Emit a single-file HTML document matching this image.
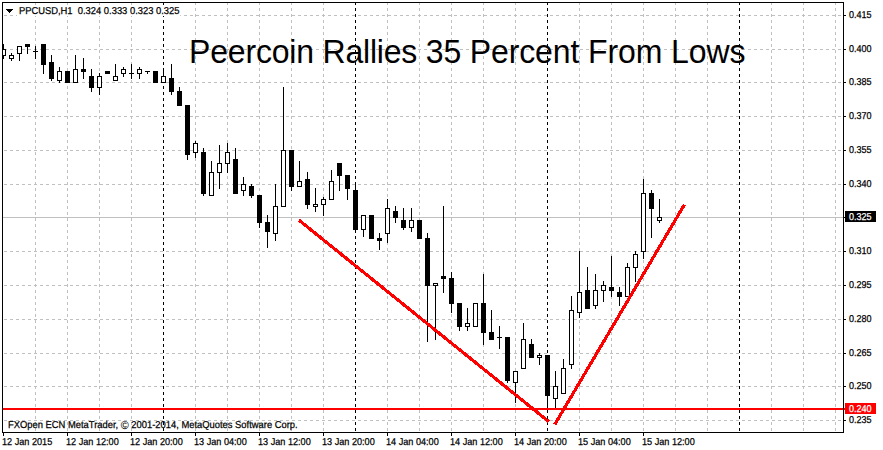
<!DOCTYPE html>
<html><head><meta charset="utf-8"><title>PPCUSD H1</title>
<style>
html,body{margin:0;padding:0;background:#fff;}
body{width:883px;height:450px;position:relative;overflow:hidden;font-family:"Liberation Sans",sans-serif;color:#000;}
svg{position:absolute;left:0;top:0;}
.t{position:absolute;white-space:nowrap;}
.ax{font-size:10px;line-height:12px;text-rendering:geometricPrecision;-webkit-text-stroke:0.25px;transform:scaleX(0.9);transform-origin:0 0;}
</style></head><body>
<svg width="883" height="450" viewBox="0 0 883 450" shape-rendering="crispEdges">
<line x1="35.5" y1="2" x2="35.5" y2="432" stroke="#c0c0c0" stroke-dasharray="3 3"/>
<line x1="67.5" y1="2" x2="67.5" y2="432" stroke="#c0c0c0" stroke-dasharray="3 3"/>
<line x1="99.5" y1="2" x2="99.5" y2="432" stroke="#c0c0c0" stroke-dasharray="3 3"/>
<line x1="131.5" y1="2" x2="131.5" y2="432" stroke="#c0c0c0" stroke-dasharray="3 3"/>
<line x1="195.5" y1="2" x2="195.5" y2="432" stroke="#c0c0c0" stroke-dasharray="3 3"/>
<line x1="227.5" y1="2" x2="227.5" y2="432" stroke="#c0c0c0" stroke-dasharray="3 3"/>
<line x1="259.5" y1="2" x2="259.5" y2="432" stroke="#c0c0c0" stroke-dasharray="3 3"/>
<line x1="291.5" y1="2" x2="291.5" y2="432" stroke="#c0c0c0" stroke-dasharray="3 3"/>
<line x1="323.5" y1="2" x2="323.5" y2="432" stroke="#c0c0c0" stroke-dasharray="3 3"/>
<line x1="387.5" y1="2" x2="387.5" y2="432" stroke="#c0c0c0" stroke-dasharray="3 3"/>
<line x1="419.5" y1="2" x2="419.5" y2="432" stroke="#c0c0c0" stroke-dasharray="3 3"/>
<line x1="451.5" y1="2" x2="451.5" y2="432" stroke="#c0c0c0" stroke-dasharray="3 3"/>
<line x1="483.5" y1="2" x2="483.5" y2="432" stroke="#c0c0c0" stroke-dasharray="3 3"/>
<line x1="515.5" y1="2" x2="515.5" y2="432" stroke="#c0c0c0" stroke-dasharray="3 3"/>
<line x1="579.5" y1="2" x2="579.5" y2="432" stroke="#c0c0c0" stroke-dasharray="3 3"/>
<line x1="611.5" y1="2" x2="611.5" y2="432" stroke="#c0c0c0" stroke-dasharray="3 3"/>
<line x1="643.5" y1="2" x2="643.5" y2="432" stroke="#c0c0c0" stroke-dasharray="3 3"/>
<line x1="675.5" y1="2" x2="675.5" y2="432" stroke="#c0c0c0" stroke-dasharray="3 3"/>
<line x1="707.5" y1="2" x2="707.5" y2="432" stroke="#c0c0c0" stroke-dasharray="3 3"/>
<line x1="771.5" y1="2" x2="771.5" y2="432" stroke="#c0c0c0" stroke-dasharray="3 3"/>
<line x1="803.5" y1="2" x2="803.5" y2="432" stroke="#c0c0c0" stroke-dasharray="3 3"/>
<line x1="835.5" y1="2" x2="835.5" y2="432" stroke="#c0c0c0" stroke-dasharray="3 3"/>
<line x1="4" y1="15.5" x2="843" y2="15.5" stroke="#c0c0c0" stroke-dasharray="3 3"/>
<line x1="4" y1="49.5" x2="843" y2="49.5" stroke="#c0c0c0" stroke-dasharray="3 3"/>
<line x1="4" y1="82.5" x2="843" y2="82.5" stroke="#c0c0c0" stroke-dasharray="3 3"/>
<line x1="4" y1="116.5" x2="843" y2="116.5" stroke="#c0c0c0" stroke-dasharray="3 3"/>
<line x1="4" y1="150.5" x2="843" y2="150.5" stroke="#c0c0c0" stroke-dasharray="3 3"/>
<line x1="4" y1="184.5" x2="843" y2="184.5" stroke="#c0c0c0" stroke-dasharray="3 3"/>
<line x1="4" y1="251.5" x2="843" y2="251.5" stroke="#c0c0c0" stroke-dasharray="3 3"/>
<line x1="4" y1="285.5" x2="843" y2="285.5" stroke="#c0c0c0" stroke-dasharray="3 3"/>
<line x1="4" y1="319.5" x2="843" y2="319.5" stroke="#c0c0c0" stroke-dasharray="3 3"/>
<line x1="4" y1="353.5" x2="843" y2="353.5" stroke="#c0c0c0" stroke-dasharray="3 3"/>
<line x1="4" y1="386.5" x2="843" y2="386.5" stroke="#c0c0c0" stroke-dasharray="3 3"/>
<line x1="4" y1="420.5" x2="843" y2="420.5" stroke="#c0c0c0" stroke-dasharray="3 3"/>
<rect x="3" y="217" width="841" height="1" fill="#c0c0c0"/>
<line x1="163.5" y1="2" x2="163.5" y2="432" stroke="#000" stroke-dasharray="3 3"/>
<line x1="355.5" y1="2" x2="355.5" y2="432" stroke="#000" stroke-dasharray="3 3"/>
<line x1="547.5" y1="2" x2="547.5" y2="432" stroke="#000" stroke-dasharray="3 3"/>
<line x1="739.5" y1="2" x2="739.5" y2="432" stroke="#000" stroke-dasharray="3 3"/>
<rect x="3" y="44" width="1" height="15" fill="#000"/>
<rect x="1" y="49" width="5" height="7" fill="#000"/>
<rect x="2" y="50" width="3" height="5" fill="#fff"/>
<rect x="11" y="53" width="1" height="8" fill="#000"/>
<rect x="9" y="55" width="5" height="4" fill="#000"/>
<rect x="10" y="56" width="3" height="2" fill="#fff"/>
<rect x="19" y="46" width="1" height="15" fill="#000"/>
<rect x="17" y="46" width="5" height="8" fill="#000"/>
<rect x="18" y="47" width="3" height="6" fill="#fff"/>
<rect x="27" y="44" width="1" height="10" fill="#000"/>
<rect x="25" y="44" width="5" height="3" fill="#000"/>
<rect x="35" y="46" width="1" height="13" fill="#000"/>
<rect x="33" y="51" width="5" height="1" fill="#000"/>
<rect x="43" y="44" width="1" height="30" fill="#000"/>
<rect x="41" y="44" width="5" height="21" fill="#000"/>
<rect x="51" y="55" width="1" height="26" fill="#000"/>
<rect x="49" y="62" width="5" height="17" fill="#000"/>
<rect x="59" y="67" width="1" height="16" fill="#000"/>
<rect x="57" y="71" width="5" height="10" fill="#000"/>
<rect x="58" y="72" width="3" height="8" fill="#fff"/>
<rect x="67" y="71" width="1" height="12" fill="#000"/>
<rect x="65" y="71" width="5" height="12" fill="#000"/>
<rect x="75" y="55" width="1" height="28" fill="#000"/>
<rect x="73" y="69" width="5" height="14" fill="#000"/>
<rect x="74" y="70" width="3" height="12" fill="#fff"/>
<rect x="83" y="58" width="1" height="21" fill="#000"/>
<rect x="81" y="69" width="5" height="3" fill="#000"/>
<rect x="91" y="69" width="1" height="23" fill="#000"/>
<rect x="89" y="76" width="5" height="12" fill="#000"/>
<rect x="99" y="73" width="1" height="22" fill="#000"/>
<rect x="97" y="76" width="5" height="12" fill="#000"/>
<rect x="98" y="77" width="3" height="10" fill="#fff"/>
<rect x="107" y="71" width="1" height="3" fill="#000"/>
<rect x="105" y="71" width="5" height="3" fill="#000"/>
<rect x="115" y="64" width="1" height="17" fill="#000"/>
<rect x="113" y="76" width="5" height="5" fill="#000"/>
<rect x="114" y="77" width="3" height="3" fill="#fff"/>
<rect x="123" y="67" width="1" height="10" fill="#000"/>
<rect x="121" y="69" width="5" height="5" fill="#000"/>
<rect x="122" y="70" width="3" height="3" fill="#fff"/>
<rect x="131" y="64" width="1" height="15" fill="#000"/>
<rect x="129" y="73" width="5" height="1" fill="#000"/>
<rect x="139" y="67" width="1" height="12" fill="#000"/>
<rect x="137" y="69" width="5" height="5" fill="#000"/>
<rect x="138" y="70" width="3" height="3" fill="#fff"/>
<rect x="147" y="71" width="1" height="3" fill="#000"/>
<rect x="145" y="71" width="5" height="1" fill="#000"/>
<rect x="155" y="71" width="1" height="12" fill="#000"/>
<rect x="153" y="71" width="5" height="12" fill="#000"/>
<rect x="163" y="68" width="1" height="15" fill="#000"/>
<rect x="161" y="76" width="5" height="7" fill="#000"/>
<rect x="162" y="77" width="3" height="5" fill="#fff"/>
<rect x="171" y="64" width="1" height="31" fill="#000"/>
<rect x="169" y="78" width="5" height="14" fill="#000"/>
<rect x="179" y="87" width="1" height="19" fill="#000"/>
<rect x="177" y="91" width="5" height="15" fill="#000"/>
<rect x="187" y="105" width="1" height="55" fill="#000"/>
<rect x="185" y="105" width="5" height="50" fill="#000"/>
<rect x="195" y="141" width="1" height="17" fill="#000"/>
<rect x="193" y="143" width="5" height="10" fill="#000"/>
<rect x="194" y="144" width="3" height="8" fill="#fff"/>
<rect x="203" y="148" width="1" height="48" fill="#000"/>
<rect x="201" y="152" width="5" height="42" fill="#000"/>
<rect x="211" y="161" width="1" height="35" fill="#000"/>
<rect x="209" y="172" width="5" height="24" fill="#000"/>
<rect x="210" y="173" width="3" height="22" fill="#fff"/>
<rect x="219" y="145" width="1" height="44" fill="#000"/>
<rect x="217" y="163" width="5" height="10" fill="#000"/>
<rect x="218" y="164" width="3" height="8" fill="#fff"/>
<rect x="227" y="143" width="1" height="30" fill="#000"/>
<rect x="225" y="152" width="5" height="12" fill="#000"/>
<rect x="226" y="153" width="3" height="10" fill="#fff"/>
<rect x="235" y="148" width="1" height="46" fill="#000"/>
<rect x="233" y="159" width="5" height="35" fill="#000"/>
<rect x="243" y="177" width="1" height="19" fill="#000"/>
<rect x="241" y="184" width="5" height="7" fill="#000"/>
<rect x="242" y="185" width="3" height="5" fill="#fff"/>
<rect x="251" y="184" width="1" height="14" fill="#000"/>
<rect x="249" y="186" width="5" height="10" fill="#000"/>
<rect x="259" y="195" width="1" height="33" fill="#000"/>
<rect x="257" y="195" width="5" height="28" fill="#000"/>
<rect x="267" y="215" width="1" height="33" fill="#000"/>
<rect x="265" y="222" width="5" height="10" fill="#000"/>
<rect x="275" y="184" width="1" height="57" fill="#000"/>
<rect x="273" y="206" width="5" height="28" fill="#000"/>
<rect x="274" y="207" width="3" height="26" fill="#fff"/>
<rect x="283" y="87" width="1" height="120" fill="#000"/>
<rect x="281" y="150" width="5" height="57" fill="#000"/>
<rect x="282" y="151" width="3" height="55" fill="#fff"/>
<rect x="291" y="150" width="1" height="41" fill="#000"/>
<rect x="289" y="150" width="5" height="37" fill="#000"/>
<rect x="299" y="161" width="1" height="26" fill="#000"/>
<rect x="297" y="181" width="5" height="6" fill="#000"/>
<rect x="298" y="182" width="3" height="4" fill="#fff"/>
<rect x="307" y="172" width="1" height="37" fill="#000"/>
<rect x="305" y="179" width="5" height="26" fill="#000"/>
<rect x="315" y="188" width="1" height="24" fill="#000"/>
<rect x="313" y="204" width="5" height="3" fill="#000"/>
<rect x="314" y="205" width="3" height="1" fill="#fff"/>
<rect x="323" y="197" width="1" height="19" fill="#000"/>
<rect x="321" y="199" width="5" height="6" fill="#000"/>
<rect x="322" y="200" width="3" height="4" fill="#fff"/>
<rect x="331" y="170" width="1" height="30" fill="#000"/>
<rect x="329" y="181" width="5" height="19" fill="#000"/>
<rect x="330" y="182" width="3" height="17" fill="#fff"/>
<rect x="339" y="163" width="1" height="28" fill="#000"/>
<rect x="337" y="163" width="5" height="13" fill="#000"/>
<rect x="347" y="175" width="1" height="25" fill="#000"/>
<rect x="345" y="175" width="5" height="14" fill="#000"/>
<rect x="355" y="182" width="1" height="51" fill="#000"/>
<rect x="353" y="190" width="5" height="40" fill="#000"/>
<rect x="363" y="215" width="1" height="22" fill="#000"/>
<rect x="361" y="215" width="5" height="15" fill="#000"/>
<rect x="362" y="216" width="3" height="13" fill="#fff"/>
<rect x="371" y="215" width="1" height="24" fill="#000"/>
<rect x="369" y="215" width="5" height="24" fill="#000"/>
<rect x="379" y="233" width="1" height="17" fill="#000"/>
<rect x="377" y="238" width="5" height="3" fill="#000"/>
<rect x="387" y="199" width="1" height="44" fill="#000"/>
<rect x="385" y="208" width="5" height="26" fill="#000"/>
<rect x="386" y="209" width="3" height="24" fill="#fff"/>
<rect x="395" y="206" width="1" height="17" fill="#000"/>
<rect x="393" y="211" width="5" height="7" fill="#000"/>
<rect x="403" y="208" width="1" height="22" fill="#000"/>
<rect x="401" y="220" width="5" height="8" fill="#000"/>
<rect x="411" y="208" width="1" height="24" fill="#000"/>
<rect x="409" y="220" width="5" height="8" fill="#000"/>
<rect x="410" y="221" width="3" height="6" fill="#fff"/>
<rect x="419" y="220" width="1" height="19" fill="#000"/>
<rect x="417" y="220" width="5" height="19" fill="#000"/>
<rect x="427" y="233" width="1" height="109" fill="#000"/>
<rect x="425" y="238" width="5" height="48" fill="#000"/>
<rect x="435" y="283" width="1" height="57" fill="#000"/>
<rect x="433" y="283" width="5" height="3" fill="#000"/>
<rect x="434" y="284" width="3" height="1" fill="#fff"/>
<rect x="443" y="206" width="1" height="87" fill="#000"/>
<rect x="441" y="276" width="5" height="3" fill="#000"/>
<rect x="451" y="272" width="1" height="41" fill="#000"/>
<rect x="449" y="278" width="5" height="26" fill="#000"/>
<rect x="459" y="303" width="1" height="28" fill="#000"/>
<rect x="457" y="303" width="5" height="24" fill="#000"/>
<rect x="467" y="308" width="1" height="23" fill="#000"/>
<rect x="465" y="323" width="5" height="4" fill="#000"/>
<rect x="466" y="324" width="3" height="2" fill="#fff"/>
<rect x="475" y="303" width="1" height="24" fill="#000"/>
<rect x="473" y="303" width="5" height="24" fill="#000"/>
<rect x="474" y="304" width="3" height="22" fill="#fff"/>
<rect x="483" y="274" width="1" height="71" fill="#000"/>
<rect x="481" y="303" width="5" height="30" fill="#000"/>
<rect x="491" y="310" width="1" height="30" fill="#000"/>
<rect x="489" y="332" width="5" height="8" fill="#000"/>
<rect x="499" y="326" width="1" height="23" fill="#000"/>
<rect x="497" y="337" width="5" height="1" fill="#000"/>
<rect x="507" y="337" width="1" height="46" fill="#000"/>
<rect x="505" y="337" width="5" height="44" fill="#000"/>
<rect x="515" y="371" width="1" height="32" fill="#000"/>
<rect x="513" y="371" width="5" height="12" fill="#000"/>
<rect x="514" y="372" width="3" height="10" fill="#fff"/>
<rect x="523" y="323" width="1" height="46" fill="#000"/>
<rect x="521" y="339" width="5" height="30" fill="#000"/>
<rect x="522" y="340" width="3" height="28" fill="#fff"/>
<rect x="531" y="339" width="1" height="19" fill="#000"/>
<rect x="529" y="344" width="5" height="14" fill="#000"/>
<rect x="539" y="353" width="1" height="12" fill="#000"/>
<rect x="537" y="355" width="5" height="3" fill="#000"/>
<rect x="538" y="356" width="3" height="1" fill="#fff"/>
<rect x="547" y="355" width="1" height="54" fill="#000"/>
<rect x="545" y="355" width="5" height="41" fill="#000"/>
<rect x="555" y="371" width="1" height="37" fill="#000"/>
<rect x="553" y="386" width="5" height="13" fill="#000"/>
<rect x="554" y="387" width="3" height="11" fill="#fff"/>
<rect x="563" y="359" width="1" height="35" fill="#000"/>
<rect x="561" y="368" width="5" height="26" fill="#000"/>
<rect x="562" y="369" width="3" height="24" fill="#fff"/>
<rect x="571" y="296" width="1" height="73" fill="#000"/>
<rect x="569" y="310" width="5" height="55" fill="#000"/>
<rect x="570" y="311" width="3" height="53" fill="#fff"/>
<rect x="579" y="251" width="1" height="67" fill="#000"/>
<rect x="577" y="292" width="5" height="21" fill="#000"/>
<rect x="578" y="293" width="3" height="19" fill="#fff"/>
<rect x="587" y="267" width="1" height="42" fill="#000"/>
<rect x="585" y="290" width="5" height="19" fill="#000"/>
<rect x="595" y="274" width="1" height="35" fill="#000"/>
<rect x="593" y="290" width="5" height="16" fill="#000"/>
<rect x="594" y="291" width="3" height="14" fill="#fff"/>
<rect x="603" y="281" width="1" height="21" fill="#000"/>
<rect x="601" y="285" width="5" height="6" fill="#000"/>
<rect x="602" y="286" width="3" height="4" fill="#fff"/>
<rect x="611" y="256" width="1" height="41" fill="#000"/>
<rect x="609" y="287" width="5" height="4" fill="#000"/>
<rect x="619" y="287" width="1" height="19" fill="#000"/>
<rect x="617" y="292" width="5" height="5" fill="#000"/>
<rect x="627" y="263" width="1" height="34" fill="#000"/>
<rect x="625" y="267" width="5" height="30" fill="#000"/>
<rect x="626" y="268" width="3" height="28" fill="#fff"/>
<rect x="635" y="251" width="1" height="31" fill="#000"/>
<rect x="633" y="254" width="5" height="14" fill="#000"/>
<rect x="634" y="255" width="3" height="12" fill="#fff"/>
<rect x="643" y="179" width="1" height="80" fill="#000"/>
<rect x="641" y="193" width="5" height="59" fill="#000"/>
<rect x="642" y="194" width="3" height="57" fill="#fff"/>
<rect x="651" y="190" width="1" height="48" fill="#000"/>
<rect x="649" y="193" width="5" height="16" fill="#000"/>
<rect x="659" y="199" width="1" height="24" fill="#000"/>
<rect x="657" y="217" width="5" height="4" fill="#000"/>
<rect x="658" y="218" width="3" height="2" fill="#fff"/>
<rect x="0" y="0" width="2" height="450" fill="#fff"/>
<rect x="3" y="408" width="842" height="2" fill="#ff0000"/>
<rect x="2" y="2" width="842" height="1" fill="#000"/>
<rect x="2" y="2" width="1" height="431" fill="#000"/>
<rect x="843" y="2" width="1" height="431" fill="#000"/>
<rect x="2" y="432" width="842" height="1" fill="#000"/>
<rect x="844" y="15" width="2" height="1" fill="#000"/>
<rect x="844" y="49" width="2" height="1" fill="#000"/>
<rect x="844" y="82" width="2" height="1" fill="#000"/>
<rect x="844" y="116" width="2" height="1" fill="#000"/>
<rect x="844" y="150" width="2" height="1" fill="#000"/>
<rect x="844" y="184" width="2" height="1" fill="#000"/>
<rect x="844" y="217" width="2" height="1" fill="#000"/>
<rect x="844" y="251" width="2" height="1" fill="#000"/>
<rect x="844" y="285" width="2" height="1" fill="#000"/>
<rect x="844" y="319" width="2" height="1" fill="#000"/>
<rect x="844" y="353" width="2" height="1" fill="#000"/>
<rect x="844" y="386" width="2" height="1" fill="#000"/>
<rect x="844" y="420" width="2" height="1" fill="#000"/>
<rect x="3" y="433" width="1" height="3" fill="#000"/>
<rect x="67" y="433" width="1" height="3" fill="#000"/>
<rect x="131" y="433" width="1" height="3" fill="#000"/>
<rect x="195" y="433" width="1" height="3" fill="#000"/>
<rect x="259" y="433" width="1" height="3" fill="#000"/>
<rect x="323" y="433" width="1" height="3" fill="#000"/>
<rect x="387" y="433" width="1" height="3" fill="#000"/>
<rect x="451" y="433" width="1" height="3" fill="#000"/>
<rect x="515" y="433" width="1" height="3" fill="#000"/>
<rect x="579" y="433" width="1" height="3" fill="#000"/>
<rect x="643" y="433" width="1" height="3" fill="#000"/>
<g shape-rendering="crispEdges"><line x1="298.9" y1="220.1" x2="549" y2="421.8" stroke="#ff0000" stroke-width="3.2"/><line x1="554.8" y1="424.4" x2="684.4" y2="204.6" stroke="#ff0000" stroke-width="3.2"/></g>
<rect x="6" y="9" width="7" height="1" fill="#000"/><rect x="7" y="10" width="5" height="1" fill="#000"/><rect x="8" y="11" width="3" height="1" fill="#000"/><rect x="9" y="12" width="1" height="1" fill="#000"/>
<rect x="845" y="211" width="31" height="11" fill="#000"/>
<rect x="845" y="403" width="31" height="11" fill="#ff0000"/>
</svg>
<div class="t ax" style="left:849px;top:10px">0.415</div>
<div class="t ax" style="left:849px;top:44px">0.400</div>
<div class="t ax" style="left:849px;top:77px">0.385</div>
<div class="t ax" style="left:849px;top:111px">0.370</div>
<div class="t ax" style="left:849px;top:145px">0.355</div>
<div class="t ax" style="left:849px;top:179px">0.340</div>
<div class="t ax" style="left:849px;top:246px">0.310</div>
<div class="t ax" style="left:849px;top:280px">0.295</div>
<div class="t ax" style="left:849px;top:314px">0.280</div>
<div class="t ax" style="left:849px;top:348px">0.265</div>
<div class="t ax" style="left:849px;top:381px">0.250</div>
<div class="t ax" style="left:849px;top:415px">0.235</div>
<div class="t ax" style="left:849px;top:212px;color:#fff">0.325</div>
<div class="t ax" style="left:849px;top:404px;color:#fff">0.240</div>
<div class="t ax" style="left:2.1px;top:437px;transform:scaleX(0.912)">12 Jan 2015</div>
<div class="t ax" style="left:66.1px;top:437px;transform:scaleX(0.912)">12 Jan 12:00</div>
<div class="t ax" style="left:130.1px;top:437px;transform:scaleX(0.912)">12 Jan 20:00</div>
<div class="t ax" style="left:194.1px;top:437px;transform:scaleX(0.912)">13 Jan 04:00</div>
<div class="t ax" style="left:258.1px;top:437px;transform:scaleX(0.912)">13 Jan 12:00</div>
<div class="t ax" style="left:322.1px;top:437px;transform:scaleX(0.912)">13 Jan 20:00</div>
<div class="t ax" style="left:386.1px;top:437px;transform:scaleX(0.912)">14 Jan 04:00</div>
<div class="t ax" style="left:450.1px;top:437px;transform:scaleX(0.912)">14 Jan 12:00</div>
<div class="t ax" style="left:514.1px;top:437px;transform:scaleX(0.912)">14 Jan 20:00</div>
<div class="t ax" style="left:578.1px;top:437px;transform:scaleX(0.912)">15 Jan 04:00</div>
<div class="t ax" style="left:642.1px;top:437px;transform:scaleX(0.912)">15 Jan 12:00</div>
<div class="t ax" id="sym" style="left:16.6px;top:5px;background:#fff;padding:1px 1px 0 2px;height:10px;transform:scaleX(0.938)">PPCUSD,H1&nbsp; 0.324 0.333 0.323 0.325</div>
<div class="t ax" id="copy" style="left:7.5px;top:420px;transform:scaleX(0.938)">FXOpen ECN MetaTrader, <span style="-webkit-text-stroke:0.1px;font-size:11.5px;line-height:0;position:relative;top:0.6px">&copy;</span> 2001-2014, MetaQuotes Software Corp.</div>
<div class="t" id="title" style="left:189.1px;top:33.7px;font-size:32px;line-height:36px;transform:scaleY(1.04);transform-origin:0 29px;"><span style="letter-spacing:-0.2px">Peercoin Rallies 35 </span><span style="letter-spacing:-0.1px">Percent From Lows</span></div>
</body></html>
